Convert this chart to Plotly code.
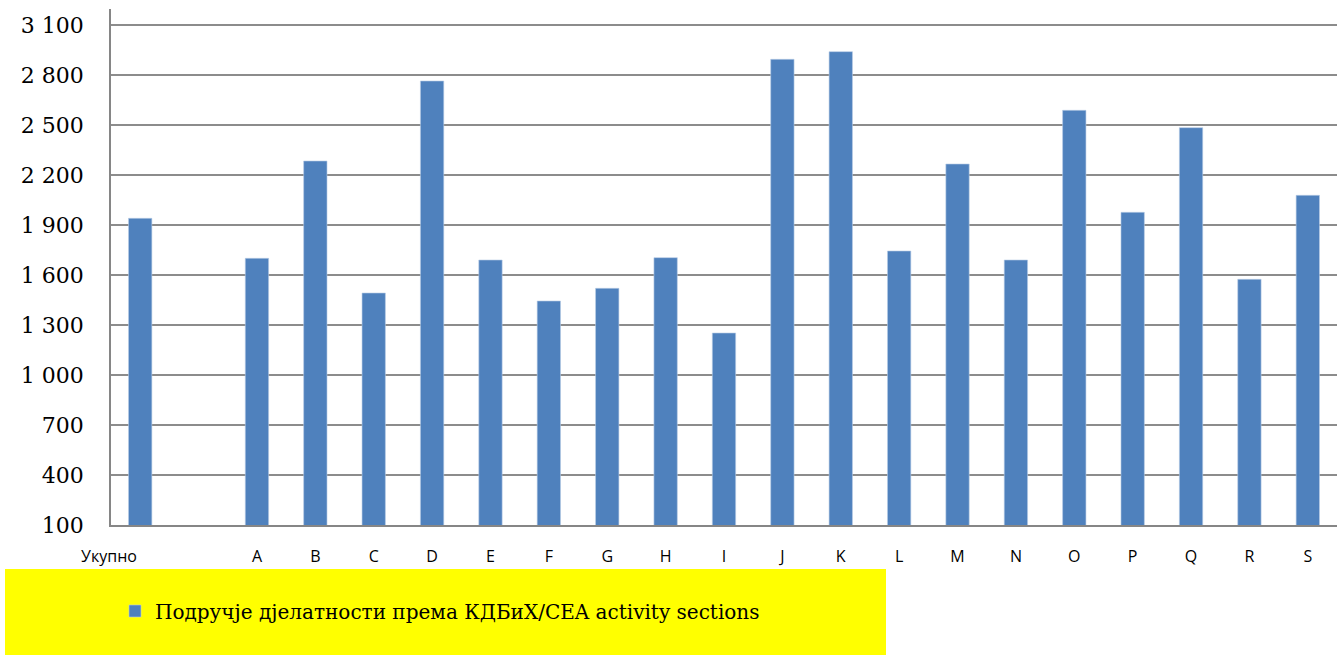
import plotly.graph_objects as go

categories = ["Укупно", " ", "A", "B", "C", "D", "E", "F", "G", "H", "I", "J", "K",
              "L", "M", "N", "O", "P", "Q", "R", "S"]
values = [1940, None, 1700, 2284, 1492, 2764, 1690, 1444, 1520, 1704, 1252, 2894, 2940,
          1744, 2266, 1690, 2588, 1976, 2484, 1574, 2078]
tick_vals = [100, 400, 700, 1000, 1300, 1600, 1900, 2200, 2500, 2800, 3100]
tick_text = ["100", "400", "700", "1 000", "1 300", "1 600", "1 900", "2 200", "2 500", "2 800", "3 100"]
series_name = "Подручје дјелатности према КДБиХ/CEA activity sections"

# x tick labels: the first label sits left of its bar in the original
x_tick_text = [categories[0] + "\u00a0" * 15] + categories[1:]

W, H = 1341, 655
L, R, T, B = 111, 4, 9, 130
pw, ph = W - L - R, H - T - B

def px(x):
    return (x - L) / pw

def py(y):
    return (H - B - y) / ph

fig = go.Figure()
fig.add_trace(go.Bar(
    x=categories, y=values, name=series_name,
    marker=dict(color="#4F81BD", line=dict(color="#B9CDE5", width=0.6)),
))

fig.add_shape(type="rect", xref="paper", yref="paper",
              x0=px(5), x1=px(886), y0=py(569), y1=py(660),
              fillcolor="#FFFF00", line=dict(width=0), layer="below")

fig.update_layout(
    width=W, height=H,
    margin=dict(l=L, r=R, t=T, b=B, pad=0),
    paper_bgcolor="white", plot_bgcolor="white",
    bargap=0.6,
    showlegend=True,
    legend=dict(x=px(115), y=py(611), xanchor="left", yanchor="middle",
                bgcolor="rgba(0,0,0,0)", itemwidth=30,
                font=dict(family="DejaVu Serif", size=20, color="black")),
    xaxis=dict(type="category", categoryorder="array", categoryarray=categories,
               tickmode="array", tickvals=categories, ticktext=x_tick_text,
               tickangle=0,
               showgrid=False, showline=True, linecolor="#868686", linewidth=1.5,
               ticks="", tickfont=dict(family="Open Sans", size=16, color="black"),
               ticklabelstandoff=16),
    yaxis=dict(range=[100, 3196], tickvals=tick_vals, ticktext=tick_text,
               showgrid=True, gridcolor="#8C8C8C", gridwidth=1.5,
               showline=True, linecolor="#868686", linewidth=1.5,
               ticks="", zeroline=False,
               tickfont=dict(family="DejaVu Serif", size=22, color="black"),
               ticklabelstandoff=21),
)

fig.write_html("out.html", config={"displayModeBar": False},
               post_script="document.body.style.margin='0px';")
